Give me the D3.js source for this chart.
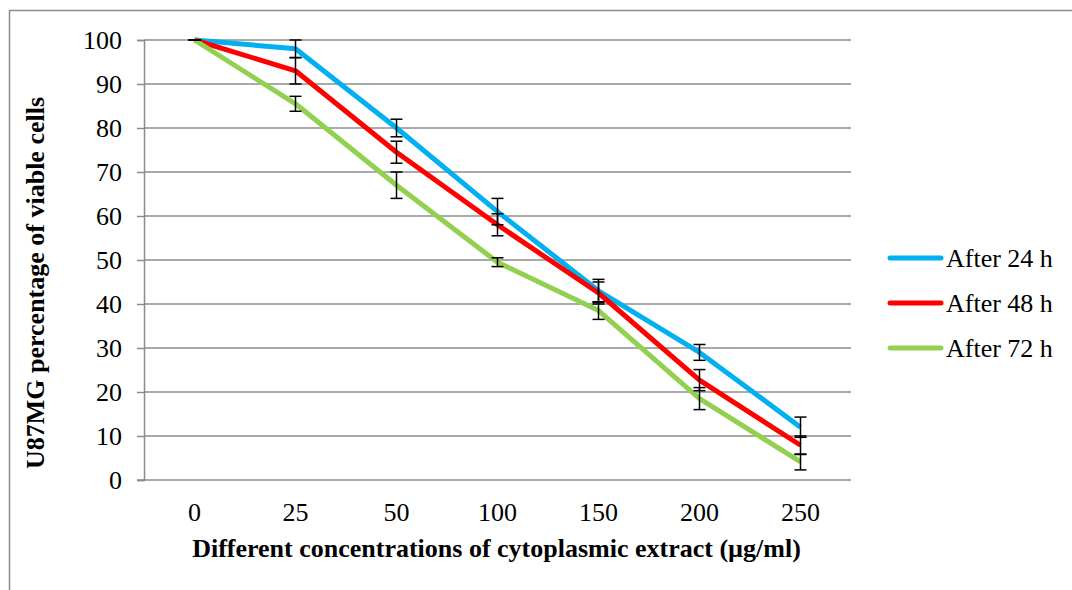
<!DOCTYPE html>
<html>
<head>
<meta charset="utf-8">
<script src="https://cdn.jsdelivr.net/npm/d3@7"></script>
<style>
  body { margin: 0; background: #fff; }
  svg text { font-family: "Liberation Serif", "Times New Roman", serif; fill: #000; }
</style>
</head>
<body>
<div id="chart"></div>
<script>
const categories = ["0", "25", "50", "100", "150", "200", "250"];
const seriesNames = ["After 24 h", "After 48 h", "After 72 h"];
const seriesColors = ["#00B0F0", "#FF0000", "#92D050"];

const after24 = [100, 98, 80, 61, 43, 29, 12];
const after48 = [100, 93, 74.5, 58, 42.5, 22.7, 7.9];
const after72 = [100, 85.5, 67, 49.5, 38.5, 18.5, 4.1];

const err24 = [0, 2, 2, 3, 2.6, 1.8, 2.3];
const err48 = [0, 3, 2.5, 2.5, 2.5, 2.4, 2.1];
const err72 = [0, 1.7, 3, 1, 2, 2.5, 1.8];

const yTicks = [0, 10, 20, 30, 40, 50, 60, 70, 80, 90, 100];

const allValues = [after24, after48, after72];
const allErrors = [err24, err48, err72];

const width = 1072, height = 590;
const plot = { left: 144, right: 851, top: 40, bottom: 480 };
const fontSize = 26;

const svg = d3.select("#chart").append("svg")
  .attr("width", width).attr("height", height);

// outer chart border
svg.append("rect")
  .attr("x", 9.5).attr("y", 10.5)
  .attr("width", 1100).attr("height", 700)
  .attr("fill", "none").attr("stroke", "#8c8c8c").attr("stroke-width", 1.5);

const x = d3.scaleBand().domain(categories).range([plot.left, plot.right]);
const y = d3.scaleLinear().domain([0, 100]).range([plot.bottom, plot.top]);

// gridlines
svg.append("g").selectAll("line")
  .data(yTicks.filter((d) => d > 0))
  .join("line")
  .attr("x1", plot.left).attr("x2", plot.right)
  .attr("y1", (d) => y(d)).attr("y2", (d) => y(d))
  .attr("stroke", "#8c8c8c").attr("stroke-width", 1.5);

// y axis
const yAxis = svg.append("g")
  .attr("transform", `translate(${plot.left},0)`)
  .call(d3.axisLeft(y).tickValues(yTicks).tickSize(7).tickPadding(15));
yAxis.select(".domain").attr("stroke", "#8c8c8c").attr("stroke-width", 1.5);
yAxis.selectAll(".tick line").attr("stroke", "#8c8c8c").attr("stroke-width", 1.5);
yAxis.selectAll("text").attr("font-size", fontSize);

// x axis
const xAxis = svg.append("g")
  .attr("transform", `translate(0,${plot.bottom})`)
  .call(d3.axisBottom(x).tickSize(0).tickPadding(23));
xAxis.select(".domain").attr("stroke", "#8c8c8c").attr("stroke-width", 1.5)
  .attr("d", `M${plot.left - 7},0H${plot.right}`);
xAxis.selectAll("text").attr("font-size", fontSize);

// axis titles
svg.append("text")
  .attr("x", (plot.left + plot.right) / 2 - 1).attr("y", 557)
  .attr("text-anchor", "middle").attr("font-size", fontSize).attr("font-weight", "bold")
  .text("Different concentrations of cytoplasmic extract (µg/ml)");

svg.append("text")
  .attr("transform", "translate(44,283) rotate(-90)")
  .attr("text-anchor", "middle").attr("font-size", fontSize).attr("font-weight", "bold")
  .text("U87MG percentage of viable cells");

const cx = (c) => x(c) + x.bandwidth() / 2;

const line = d3.line()
  .x((d, i) => cx(categories[i]))
  .y((d) => y(d));

// series lines
allValues.forEach((vals, s) => {
  svg.append("path")
    .datum(vals)
    .attr("d", line)
    .attr("fill", "none")
    .attr("stroke", seriesColors[s])
    .attr("stroke-width", 5)
    .attr("stroke-linejoin", "round");
});

// error bars
const capW = 6;
allValues.forEach((vals, s) => {
  const g = svg.append("g").attr("stroke", "#000").attr("stroke-width", 1.5);
  vals.forEach((v, i) => {
    const e = allErrors[s][i];
    const px = cx(categories[i]);
    g.append("line").attr("x1", px).attr("x2", px)
      .attr("y1", y(v - e)).attr("y2", y(v + e));
    [v - e, v + e].forEach((b) => {
      g.append("line").attr("x1", px - capW).attr("x2", px + capW)
        .attr("y1", y(b)).attr("y2", y(b));
    });
  });
});

// legend
const legend = svg.append("g");
seriesNames.forEach((name, s) => {
  const ly = 258 + s * 45;
  legend.append("line")
    .attr("x1", 890).attr("x2", 941)
    .attr("y1", ly).attr("y2", ly)
    .attr("stroke", seriesColors[s]).attr("stroke-width", 5)
    .attr("stroke-linecap", "round");
  legend.append("text")
    .attr("x", 946).attr("y", ly + 9)
    .attr("font-size", fontSize)
    .text(name);
});
</script>
</body>
</html>
